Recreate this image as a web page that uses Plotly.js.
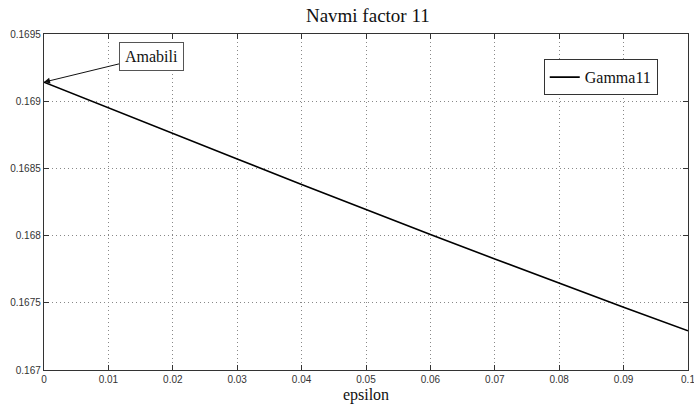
<!DOCTYPE html>
<html>
<head>
<meta charset="utf-8">
<script src="https://cdn.plot.ly/plotly-3.0.1.min.js"></script>
<style>html,body{margin:0;padding:0;background:#fff;}#chart{width:694px;height:410px;}</style>
</head>
<body>
<div id="chart"></div>
<script>
const epsilon = [0, 0.01, 0.02, 0.03, 0.04, 0.05, 0.06, 0.07, 0.08, 0.09, 0.1];
const gamma11 = [0.169142, 0.168950, 0.168760, 0.168570, 0.168381, 0.168194, 0.168009, 0.167826, 0.167645, 0.167467, 0.167292];
const xTicks = [0, 0.01, 0.02, 0.03, 0.04, 0.05, 0.06, 0.07, 0.08, 0.09, 0.1];
const xTickLabels = ['0', '0.01', '0.02', '0.03', '0.04', '0.05', '0.06', '0.07', '0.08', '0.09', '0.1'];
const yTicks = [0.167, 0.1675, 0.168, 0.1685, 0.169, 0.1695];
const yTickLabels = ['0.167', '0.1675', '0.168', '0.1685', '0.169', '0.1695'];
const seriesName = 'Gamma11';
const annotationText = 'Amabili';

const serif = 'Liberation Serif, Times New Roman, serif';
const sans = 'Liberation Sans, Arial, sans-serif';

const trace = {
  x: epsilon, y: gamma11, type: 'scatter', mode: 'lines', name: seriesName,
  line: {color: '#000', width: 1.6}
};

const axisCommon = {
  showline: true, linecolor: '#333', linewidth: 1.2, mirror: 'allticks',
  ticks: 'inside', ticklen: 5, tickcolor: '#333', tickwidth: 1,
  showgrid: true, gridcolor: '#888', griddash: '1px,3px', gridwidth: 1,
  zeroline: false, tickfont: {family: sans, size: 10, color: '#333'},
  ticklabeloverflow: 'allow'
};

const layout = {
  width: 694, height: 410,
  margin: {l: 44, r: 6, t: 34, b: 40},
  paper_bgcolor: '#fff', plot_bgcolor: '#fff',
  title: {text: 'Navmi factor 11', font: {family: serif, size: 19, color: '#111'}, x: 0.53, xanchor: 'center', y: 0.98, yanchor: 'top'},
  xaxis: Object.assign({}, axisCommon, {
    range: [0, 0.1], tickvals: xTicks, ticktext: xTickLabels,
    title: {text: 'epsilon', font: {family: serif, size: 16, color: '#111'}, standoff: 4}
  }),
  yaxis: Object.assign({}, axisCommon, {
    range: [0.167, 0.1695], tickvals: yTicks, ticktext: yTickLabels
  }),
  showlegend: true,
  legend: {
    x: 0.776, y: 0.925, xanchor: 'left', yanchor: 'top',
    bordercolor: '#333', borderwidth: 1, bgcolor: '#fff',
    font: {family: serif, size: 16, color: '#111'},
    itemwidth: 30
  },
  annotations: [{
    x: epsilon[0], y: gamma11[0], xref: 'x', yref: 'y',
    text: annotationText, showarrow: true, arrowhead: 2, arrowsize: 1.2, arrowwidth: 1, arrowcolor: '#111',
    ax: 107, ay: -26,
    font: {family: serif, size: 16, color: '#111'},
    bordercolor: '#555', borderwidth: 1, borderpad: 5, bgcolor: '#fff'
  }]
};

Plotly.newPlot('chart', [trace], layout, {displayModeBar: false, staticPlot: true});
</script>
</body>
</html>
